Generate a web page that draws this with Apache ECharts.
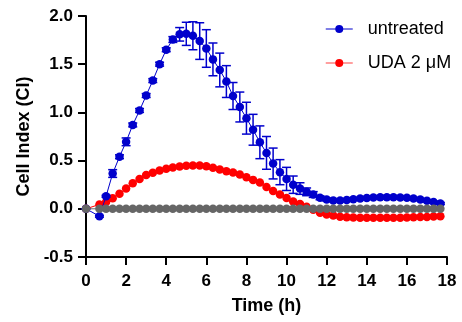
<!DOCTYPE html>
<html>
<head>
<meta charset="utf-8">
<script src="https://cdn.jsdelivr.net/npm/echarts@6/dist/echarts.min.js"></script>
<style>
  html, body { margin: 0; padding: 0; background: #fff; }
  #chart { width: 462px; height: 322px; }
</style>
</head>
<body>
<div id="chart"></div>
<script>
// time points (h)
const times = [0, 0.67, 1, 1.33, 1.67, 2, 2.33, 2.67, 3, 3.33, 3.67, 4, 4.33, 4.67, 5, 5.33, 5.67,
  6, 6.33, 6.67, 7, 7.33, 7.67, 8, 8.33, 8.67, 9, 9.33, 9.67, 10, 10.33, 10.67, 11, 11.33, 11.67,
  12, 12.33, 12.67, 13, 13.33, 13.67, 14, 14.33, 14.67, 15, 15.33, 15.67, 16, 16.33, 16.67, 17, 17.33, 17.67];

// cell index, untreated (mean and SD)
const untreated = [0, -0.077, 0.13, 0.366, 0.54, 0.695, 0.87, 1.02, 1.175, 1.33, 1.5, 1.65, 1.756, 1.81, 1.815, 1.795, 1.74,
  1.663, 1.55, 1.44, 1.32, 1.17, 1.056, 0.94, 0.82, 0.69, 0.58, 0.47, 0.38, 0.31, 0.25, 0.21, 0.176, 0.148, 0.114,
  0.096, 0.086, 0.086, 0.092, 0.1, 0.107, 0.112, 0.117, 0.12, 0.121, 0.121, 0.118, 0.114, 0.107, 0.096, 0.083, 0.07, 0.055];
const untreatedSD = [0, 0.01, 0.01, 0.04, 0.02, 0.04, 0.02, 0.02, 0.02, 0.02, 0.02, 0.02, 0.03, 0.07, 0.12, 0.145, 0.19,
  0.195, 0.17, 0.175, 0.165, 0.14, 0.155, 0.165, 0.16, 0.17, 0.17, 0.16, 0.13, 0.12, 0.09, 0.06, 0.04, 0.03, 0.02,
  0.015, 0.01, 0.01, 0.01, 0.01, 0.01, 0.01, 0.01, 0.015, 0.015, 0.015, 0.015, 0.01, 0.01, 0.01, 0.01, 0.01, 0.01];

// cell index, UDA 2 µM
const uda = [0, 0.045, 0.07, 0.11, 0.157, 0.21, 0.265, 0.31, 0.35, 0.375, 0.397, 0.415, 0.429, 0.44, 0.447, 0.449, 0.448,
  0.442, 0.425, 0.407, 0.39, 0.376, 0.356, 0.328, 0.3, 0.272, 0.225, 0.185, 0.148, 0.112, 0.075, 0.05, 0.02, -0.01, -0.04,
  -0.058, -0.07, -0.082, -0.088, -0.09, -0.092, -0.093, -0.093, -0.093, -0.094, -0.093, -0.092, -0.09, -0.088, -0.086, -0.084, -0.08, -0.077];

// baseline (grey)
const baseline = [0, 0, 0, 0, 0, 0, 0, 0, 0, 0, 0, 0, 0, 0, 0, 0, 0,
  0, 0, 0, 0, 0, 0, 0, 0, 0, 0, 0, 0, 0, 0, 0, 0, 0, 0,
  0, 0, 0, 0, 0, 0, 0, 0, 0, 0, 0, 0, 0, 0, 0, 0, 0, 0];

const legendNames = ['untreated', 'UDA 2 μM'];

const font = '"Liberation Sans", Arial, sans-serif';
const blue = '#0000cc';
const red = '#ff0000';
const grey = '#666666';

const pairs = (ys) => times.map((t, i) => [t, ys[i]]);
const errData = times.map((t, i) => [t, untreated[i] - untreatedSD[i], untreated[i] + untreatedSD[i]]);

const chart = echarts.init(document.getElementById('chart'));

const option = {
  backgroundColor: '#fff',
  animation: false,
  grid: { left: 86, right: 15, top: 16, bottom: 65 },
  legend: {
    orient: 'vertical',
    left: 320,
    top: 14,
    itemWidth: 27,
    itemHeight: 10,
    itemGap: 14,
    textStyle: { fontFamily: font, fontSize: 18, color: '#000', lineHeight: 20, padding: [0, 0, 0, 10] },
    data: [
      { name: legendNames[0], lineStyle: { color: blue, width: 1 } },
      { name: legendNames[1], lineStyle: { color: '#ff7f7f', width: 1.5 } }
    ]
  },
  xAxis: {
    type: 'value',
    min: 0,
    max: 18,
    interval: 2,
    name: 'Time (h)',
    nameLocation: 'middle',
    nameGap: 40,
    nameTextStyle: { fontFamily: font, fontSize: 18, fontWeight: 'bold', color: '#000' },
    axisLine: { onZero: false, lineStyle: { color: '#000', width: 2 } },
    axisTick: { length: 8, lineStyle: { color: '#000', width: 2 } },
    axisLabel: { margin: 16, fontFamily: font, fontSize: 17, fontWeight: 'bold', color: '#000' },
    splitLine: { show: false }
  },
  yAxis: {
    type: 'value',
    min: -0.5,
    max: 2,
    interval: 0.5,
    name: 'Cell Index (CI)',
    nameLocation: 'middle',
    nameGap: 52,
    nameTextStyle: { fontFamily: font, fontSize: 18, fontWeight: 'bold', color: '#000' },
    axisLine: { show: true, onZero: false, lineStyle: { color: '#000', width: 2 } },
    axisTick: { show: true, length: 8, lineStyle: { color: '#000', width: 2 } },
    axisLabel: {
      margin: 13, fontFamily: font, fontSize: 17, fontWeight: 'bold', color: '#000',
      formatter: (v) => v.toFixed(1)
    },
    splitLine: { show: false }
  },
  series: [
    {
      name: legendNames[1],
      type: 'line',
      data: pairs(uda),
      symbol: 'circle',
      symbolSize: 8.5,
      itemStyle: { color: red },
      lineStyle: { color: red, width: 1 },
      z: 2
    },
    {
      name: 'sd',
      type: 'custom',
      data: errData,
      z: 3,
      renderItem: function (params, api) {
        const t = api.value(0);
        const lo = api.coord([t, api.value(1)]);
        const hi = api.coord([t, api.value(2)]);
        const hw = 4.5;
        const style = { stroke: blue, lineWidth: 1.5, fill: null };
        return {
          type: 'group',
          children: [
            { type: 'line', shape: { x1: lo[0], y1: lo[1], x2: hi[0], y2: hi[1] }, style: style },
            { type: 'line', shape: { x1: lo[0] - hw, y1: lo[1], x2: lo[0] + hw, y2: lo[1] }, style: style },
            { type: 'line', shape: { x1: hi[0] - hw, y1: hi[1], x2: hi[0] + hw, y2: hi[1] }, style: style }
          ]
        };
      }
    },
    {
      name: legendNames[0],
      type: 'line',
      data: pairs(untreated),
      symbol: 'circle',
      symbolSize: 8.5,
      itemStyle: { color: blue },
      lineStyle: { color: blue, width: 1 },
      z: 4
    },
    {
      name: 'baseline',
      type: 'line',
      data: pairs(baseline),
      symbol: 'circle',
      symbolSize: 8.5,
      itemStyle: { color: grey },
      lineStyle: { color: grey, width: 1 },
      z: 5
    }
  ]
};

chart.setOption(option);
</script>
</body>
</html>
